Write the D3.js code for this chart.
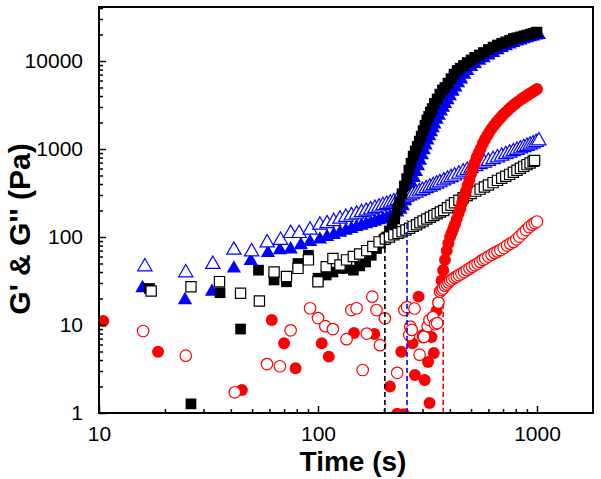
<!DOCTYPE html>
<html>
<head>
<meta charset="utf-8">
<script src="https://cdn.jsdelivr.net/npm/d3@7"></script>
<style>
  html, body { margin: 0; padding: 0; background: #fff; }
  svg { display: block; }
  text { font-family: Arial, "Liberation Sans", sans-serif; }
</style>
</head>
<body>
<svg id="chart" width="601" height="479"></svg>
<script>
// ---------------- DATA (time in s, modulus in Pa) ----------------
const blackGp = [[17,26],[26.3,1.27],[35.7,23.3],[44.3,9.0],[53.5,42],[63,32.5],[71.8,31],[81,50],[90.4,62],[100,34],[109,37],[117,40],[126,44],[134,44],[145,42],[155,47],[165,52],[175,62],[185,74],[193,85],[200,93],[206,100],[212,117],[218,136],[224,160],[230,205],[236,250],[242,310],[248,380],[254,460],[260,575],[266,690],[272,830],[278,950],[284,1070],[290,1230],[296,1400],[302,1620],[308,1860],[314,2140],[320,2350],[326,2630],[332,2880],[340,3300],[350,3700],[360,4200],[370,4700],[380,5000],[392,5600],[405,6300],[418,7100],[432,7800],[446,8300],[462,8900],[480,9600],[500,10300],[520,11000],[545,11700],[570,12500],[600,13500],[630,14400],[660,15200],[690,15900],[720,16500],[750,17200],[780,18000],[810,18400],[840,18800],[870,19300],[900,19700],[930,20200],[960,20600],[990,21100],[1000,21300]];
const blackGpp = [[17.3,24.3],[26.3,27.2],[35.5,31.1],[44.3,23],[54,18.7],[63,40],[71.8,35.5],[81,44],[90.4,55],[100,31],[109,46],[117,57],[126,48],[135,55],[145,60],[155,64],[167,70],[178,78],[190,88],[203,95],[212,100],[222,106],[232,110],[242,115],[252,120],[262,126],[272,132],[282,138],[292,145],[302,152],[314,160],[326,168],[338,176],[350,184],[362,192],[375,200],[390,215],[405,230],[420,245],[440,262],[460,280],[480,297],[500,312],[525,332],[550,350],[575,370],[600,390],[630,415],[660,440],[690,465],[720,490],[750,515],[780,545],[810,575],[840,605],[870,635],[900,665],[930,695],[960,725],[975,740]];
const blueGp = [[15.8,26.3],[24.7,19.2],[32.8,23.9],[41.3,44],[49.3,53.5],[59.1,66],[67,71],[75,72.5],[83.5,81],[92,88],[102,94],[110,100],[118,106],[126,112],[134,118],[142,124],[150,130],[158,135],[166,140],[174,145],[182,150],[190,155],[198,160],[206,165],[214,172],[222,180],[230,190],[238,205],[244,225],[250,255],[256,290],[262,340],[268,400],[274,470],[280,550],[286,640],[292,740],[298,850],[304,970],[310,1100],[316,1250],[322,1400],[328,1560],[334,1730],[340,1900],[348,2150],[356,2400],[364,2680],[372,2950],[380,3250],[390,3600],[400,4000],[412,4500],[424,5000],[436,5600],[450,6200],[465,7000],[480,7700],[500,8600],[520,9300],[545,10100],[570,10800],[600,11600],[630,12400],[660,13300],[690,14100],[720,14800],[750,15500],[780,16100],[810,16700],[840,17200],[870,17700],[900,18200],[930,18700],[960,19100],[990,19500],[1020,19800]];
const blueGpp = [[16.2,46],[24.9,39.3],[33.1,49],[41.3,71],[49.8,68],[58.6,86],[67.5,92],[75,110],[82,110],[92,120],[102,137],[110,142],[118,150],[126,160],[134,168],[142,175],[150,182],[158,190],[166,197],[174,204],[182,212],[190,220],[198,228],[206,236],[214,244],[222,252],[230,260],[238,268],[246,276],[254,285],[262,294],[270,303],[280,315],[290,328],[300,340],[312,355],[324,370],[336,385],[348,400],[360,415],[375,435],[390,455],[405,475],[420,495],[440,520],[460,548],[480,575],[500,600],[525,632],[550,665],[575,695],[600,725],[630,760],[660,795],[690,830],[720,865],[750,900],[780,935],[810,970],[840,1005],[870,1040],[900,1075],[930,1110],[960,1150],[990,1190],[1020,1240]];
const redGp = [[10.46,11.1],[18.6,4.97],[44.9,1.83],[61.5,11.4],[70,6.2],[79,3.22],[104,6.2],[112,4.37],[146,8.1],[181,7.9],[213,2.0],[230,0.98],[240,4.97],[247,0.97],[270,6.2],[277,2.7],[288,21],[301,7.7],[307,2.37],[318,3.8],[323,1.3],[330,7.3],[338,4.8],[348,14.5],[354,18],[361,24],[367,32],[373,42],[380,55],[387,70],[394,85],[401,100],[408,112],[415,125],[422,140],[430,160],[438,185],[446,210],[455,245],[464,285],[473,330],[482,385],[491,445],[500,520],[510,620],[520,700],[530,800],[540,890],[552,1000],[565,1150],[578,1280],[592,1420],[606,1560],[620,1700],[636,1850],[652,2000],[668,2150],[684,2300],[700,2450],[720,2620],[740,2800],[760,2970],[780,3150],[800,3320],[825,3500],[850,3700],[875,3880],[900,4060],[925,4240],[950,4420],[975,4600],[1000,4800]];
const redGpp = [[15.9,8.55],[24.9,4.48],[41.7,1.72],[58.5,3.6],[67,3.4],[75,8.7],[92,15.5],[100,12],[108,9.7],[117,9],[135,6.9],[142,14.8],[150,15.5],[160,3.08],[167,8],[177,21],[185,14.8],[192,5.9],[202,11.9],[230,2.86],[248,14.8],[255,16],[261,7.7],[264,9.6],[268,8.8],[276,15.4],[291,4.6],[302,7.3],[305,7.35],[317,9.7],[323,11.4],[335,12.3],[342,10.2],[350,10.5],[355,18],[361,24],[367,25],[373,26],[380,28],[387,29],[394,30.5],[401,32],[410,33],[420,34.5],[430,35.5],[440,37],[452,38.5],[465,40],[478,42],[492,44],[506,46],[520,48],[535,50],[550,52.5],[565,55],[580,57],[600,60],[620,63],[640,66],[660,68.5],[680,71],[705,75],[730,80],[755,84],[780,88],[805,94],[830,101],[860,110],[890,120],[920,130],[950,138],[975,144],[1000,150]];
// crossover markers: time, modulus at the top of the dashed line
const crossTimes = [202, 255, 373];
const crossTops = [92, 155, 19];
const crossColors = ["#000000", "#0000ff", "#ff0000"];
const xTickValues = [10, 100, 1000];
const yTickValues = [1, 10, 100, 1000, 10000];
const xDomain = [10, 1802];
const yDomain = [1, 41100];

// ---------------- LAYOUT ----------------
const L = 99, R = 593, T = 7, B = 413;
const svg = d3.select("#chart");
const x = d3.scaleLog().domain(xDomain).range([L, R]);
const y = d3.scaleLog().domain(yDomain).range([B, T]);

svg.append("defs").append("clipPath").attr("id", "clip")
  .append("rect").attr("x", L).attr("y", T).attr("width", R - L).attr("height", B - T);

const plot = svg.append("g").attr("clip-path", "url(#clip)");

function drawSeries(data, type, size, filled, color) {
  const sym = d3.symbol().type(type).size(size);
  plot.append("g").selectAll("path").data(data).join("path")
    .attr("d", sym)
    .attr("transform", d => `translate(${x(d[0])},${y(d[1])})`)
    .attr("fill", filled ? color : "#ffffff")
    .attr("stroke", color)
    .attr("stroke-width", filled ? 0 : 1.2);
}

drawSeries(blueGp, d3.symbolTriangle, 88, true, "#0000ff");
drawSeries(blueGpp, d3.symbolTriangle, 88, false, "#0000ff");
drawSeries(blackGp, d3.symbolSquare, 115, true, "#000000");
drawSeries(blackGpp, d3.symbolSquare, 105, false, "#000000");
drawSeries(redGp, d3.symbolCircle, 112, true, "#ff0000");
drawSeries(redGpp, d3.symbolCircle, 104, false, "#ff0000");

// dashed crossover lines
svg.append("g").selectAll("line").data(crossTimes).join("line")
  .attr("x1", d => x(d)).attr("x2", d => x(d))
  .attr("y1", B).attr("y2", (d, i) => y(crossTops[i]))
  .attr("stroke", (d, i) => crossColors[i])
  .attr("stroke-width", 1.6)
  .attr("stroke-dasharray", "5,3");

// axes with inward ticks
const minorX = [];
for (let dec = 10; dec < 2000; dec *= 10) for (let k = 2; k <= 9; k++) { const v = dec * k; if (v <= xDomain[1]) minorX.push(v); }
const minorY = [];
for (let dec = 1; dec < 50000; dec *= 10) for (let k = 2; k <= 9; k++) { const v = dec * k; if (v <= yDomain[1]) minorY.push(v); }

const xAxisMajor = d3.axisBottom(x).tickValues(xTickValues).tickSize(-7).tickPadding(13).tickFormat(d3.format("d"));
const xAxisMinor = d3.axisBottom(x).tickValues(minorX).tickSize(-4).tickFormat("");
const yAxisMajor = d3.axisLeft(y).tickValues(yTickValues).tickSize(-7).tickPadding(16).tickFormat(d3.format("d"));
const yAxisMinor = d3.axisLeft(y).tickValues(minorY).tickSize(-4).tickFormat("");

function styleAxis(g) {
  g.select(".domain").remove();
  g.selectAll("line").attr("stroke", "#000").attr("stroke-width", 1.5);
  g.selectAll("text").attr("fill", "#000").style("font-size", "21px");
}
svg.append("g").attr("transform", `translate(0,${B})`).call(xAxisMinor).call(styleAxis);
svg.append("g").attr("transform", `translate(0,${B})`).call(xAxisMajor).call(styleAxis);
svg.append("g").attr("transform", `translate(${L},0)`).call(yAxisMinor).call(styleAxis);
svg.append("g").attr("transform", `translate(${L},0)`).call(yAxisMajor).call(styleAxis);

// frame
svg.append("rect").attr("x", L).attr("y", T).attr("width", R - L).attr("height", B - T)
  .attr("fill", "none").attr("stroke", "#000").attr("stroke-width", 2);

// titles
svg.append("text").attr("x", 353).attr("y", 471).attr("text-anchor", "middle")
  .style("font-size", "28px").style("font-weight", "bold").text("Time (s)");
svg.append("text").attr("transform", "translate(30,229) rotate(-90)").attr("text-anchor", "middle")
  .style("font-size", "30px").style("font-weight", "bold").text("G' & G'' (Pa)");
</script>
</body>
</html>
